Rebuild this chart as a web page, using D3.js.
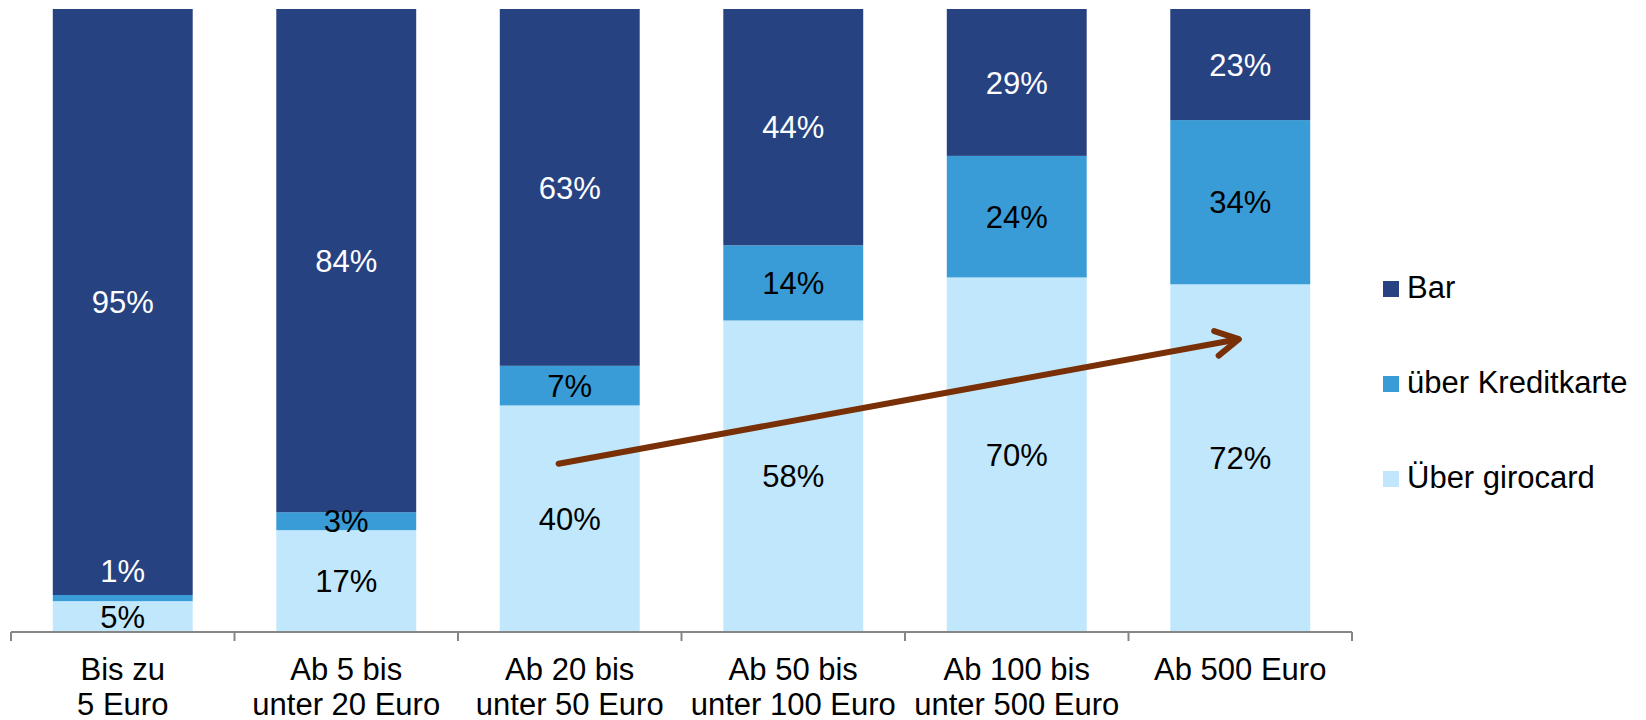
<!DOCTYPE html>
<html>
<head>
<meta charset="utf-8">
<script src="https://cdn.jsdelivr.net/npm/d3@7"></script>
<style>
  body { margin: 0; background: #fff; }
  text { font-family: "Liberation Sans", Arial, sans-serif; }
</style>
</head>
<body>
<svg id="chart"></svg>
<script>
// Categories (payment amount ranges)
const categories = [
  "Bis zu\n5 Euro",
  "Ab 5 bis\nunter 20 Euro",
  "Ab 20 bis\nunter 50 Euro",
  "Ab 50 bis\nunter 100 Euro",
  "Ab 100 bis\nunter 500 Euro",
  "Ab 500 Euro"
];

// Series values in percent (multiple answers, so bars are normalised)
const girocard = [5, 17, 40, 58, 70, 72];
const kredit = [1, 3, 7, 14, 24, 34];
const bar = [95, 84, 63, 44, 29, 23];

const seriesNames = ["Über girocard", "über Kreditkarte", "Bar"];
const legendOrder = ["Bar", "über Kreditkarte", "Über girocard"];
const colors = ["#c1e7fc", "#3a9cd6", "#264281"];

const width = 1646, height = 720;
const margin = {top: 9, left: 11, right: 294, bottom: 88};
const fontSize = 31;

const svg = d3.select("#chart")
  .attr("width", width)
  .attr("height", height);

// build rows for the stack
const rows = categories.map((c, i) => ({
  cat: c,
  "Über girocard": girocard[i],
  "über Kreditkarte": kredit[i],
  "Bar": bar[i]
}));

const stack = d3.stack()
  .keys(seriesNames)
  .offset(d3.stackOffsetExpand);
const layers = stack(rows);

const x = d3.scaleBand()
  .domain(categories)
  .range([margin.left, width - margin.right])
  .paddingInner(0.374)
  .paddingOuter(0.187);

const y = d3.scaleLinear()
  .domain([0, 1])
  .range([height - margin.bottom, margin.top]);

const color = d3.scaleOrdinal().domain(seriesNames).range(colors);

// Bars
const layer = svg.selectAll("g.layer")
  .data(layers)
  .enter().append("g")
  .attr("class", "layer")
  .attr("fill", d => color(d.key));

layer.selectAll("rect")
  .data(d => d)
  .enter().append("rect")
  .attr("x", d => x(d.data.cat))
  .attr("y", d => y(d[1]))
  .attr("width", x.bandwidth())
  .attr("height", d => y(d[0]) - y(d[1]));

// Value labels, centred in each segment
layers.forEach(l => {
  l.forEach(d => {
    const h = y(d[0]) - y(d[1]);
    let cy = (y(d[0]) + y(d[1])) / 2;
    let fill = l.key === "Bar" ? "#fff" : "#000";
    if (h < 10) { cy -= 27; fill = "#fff"; }  // tiny segment: label sits above
    svg.append("text")
      .attr("x", x(d.data.cat) + x.bandwidth() / 2)
      .attr("y", cy)
      .attr("dy", "0.36em")
      .attr("text-anchor", "middle")
      .attr("font-size", fontSize)
      .attr("fill", fill)
      .text(d.data[l.key] + "%");
  });
});

// Category axis with ticks between categories
const axisY = y(0);
const x0 = x.range()[0];
const axis = svg.append("g").attr("stroke", "#868686").attr("stroke-width", 2);
axis.append("line")
  .attr("x1", x0).attr("x2", x.range()[1])
  .attr("y1", axisY).attr("y2", axisY);
d3.range(categories.length + 1).forEach(i => {
  axis.append("line")
    .attr("x1", x0 + i * x.step()).attr("x2", x0 + i * x.step())
    .attr("y1", axisY).attr("y2", axisY + 9);
});

categories.forEach(c => {
  const t = svg.append("text")
    .attr("x", x(c) + x.bandwidth() / 2)
    .attr("y", axisY + 48)
    .attr("text-anchor", "middle")
    .attr("font-size", fontSize)
    .attr("fill", "#000");
  c.split("\n").forEach((line, k) => {
    t.append("tspan")
      .attr("x", x(c) + x.bandwidth() / 2)
      .attr("dy", k === 0 ? 0 : 35)
      .text(line);
  });
});

// Trend arrow from the third to the last bar
const arrowStart = {cat: categories[2], pos: 0.42, v: 0.27};
const arrowEnd = {cat: categories[5], pos: 0.49, v: 0.47};
const ax1 = x(arrowStart.cat) + x.bandwidth() * arrowStart.pos, ay1 = y(arrowStart.v);
const ax2 = x(arrowEnd.cat) + x.bandwidth() * arrowEnd.pos, ay2 = y(arrowEnd.v);
const ang = Math.atan2(ay2 - ay1, ax2 - ax1);
const headLen = 26, headAng = 0.5;
const arrow = svg.append("g")
  .attr("stroke", "#7a3007")
  .attr("stroke-width", 6)
  .attr("stroke-linecap", "round")
  .attr("stroke-linejoin", "round")
  .attr("fill", "none");
arrow.append("line")
  .attr("x1", ax1).attr("y1", ay1)
  .attr("x2", ax2 - 2 * Math.cos(ang)).attr("y2", ay2 - 2 * Math.sin(ang));
arrow.append("path")
  .attr("d", d3.line()([
    [ax2 - headLen * Math.cos(ang - headAng), ay2 - headLen * Math.sin(ang - headAng)],
    [ax2, ay2],
    [ax2 - headLen * Math.cos(ang + headAng), ay2 - headLen * Math.sin(ang + headAng)]
  ]));

// Legend
const legend = svg.append("g").attr("transform", "translate(1383, 281)");
legendOrder.forEach((name, i) => {
  const g = legend.append("g").attr("transform", `translate(0, ${i * 95})`);
  g.append("rect")
    .attr("width", 16).attr("height", 16)
    .attr("fill", color(name));
  g.append("text")
    .attr("x", 24)
    .attr("y", 17)
    .attr("font-size", fontSize)
    .attr("fill", "#000")
    .text(name);
});
</script>
</body>
</html>
